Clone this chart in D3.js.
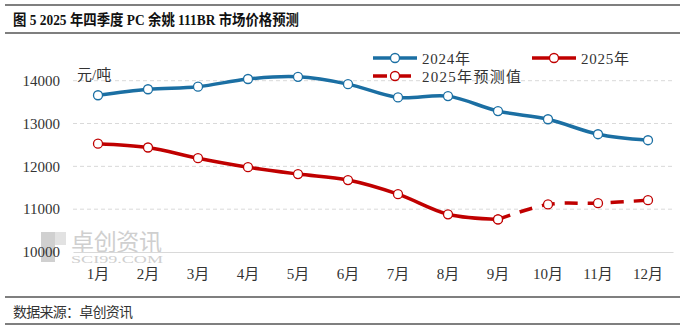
<!DOCTYPE html>
<html>
<head>
<meta charset="utf-8">
<script src="https://cdn.jsdelivr.net/npm/d3@7"></script>
<style>
  body { margin: 0; background: #fff; }
  svg { display: block; }
</style>
</head>
<body>
<script>
// data
const months = ["1月","2月","3月","4月","5月","6月","7月","8月","9月","10月","11月","12月"];
const price2024 = [13660, 13800, 13860, 14040, 14090, 13920, 13610, 13640, 13290, 13100, 12750, 12610];
const price2025 = [12530, 12440, 12190, 11980, 11820, 11680, 11350, 10880, 10760];
const forecast2025 = [null, null, null, null, null, null, null, null, 10760, 11110, 11140, 11210];
const yTicks = [10000, 11000, 12000, 13000, 14000];

const W = 680, H = 328;
const blue = "#1b6fa3", red = "#c00000";
const cjk = "'Liberation Serif','Noto Sans CJK SC',serif";

const svg = d3.select("body").append("svg").attr("width", W).attr("height", H);

// frame lines + title + source
[5, 33, 297, 324].forEach(y => {
    svg.append("line").attr("x1", 5).attr("x2", W).attr("y1", y).attr("y2", y)
        .attr("stroke", "#555").attr("stroke-width", 1.5);
});
svg.append("text").text("图 5 2025 年四季度 PC 余姚 111BR 市场价格预测")
    .attr("x", 13).attr("y", 25)
    .attr("font-size", 15).attr("font-weight", "bold")
    .attr("textLength", 286).attr("lengthAdjust", "spacingAndGlyphs")
    .attr("font-family", cjk).attr("fill", "#111");
svg.append("text").text("数据来源：卓创资讯")
    .attr("x", 13).attr("y", 317)
    .attr("font-size", 14).attr("textLength", 120)
    .attr("font-family", cjk).attr("fill", "#333");

// scales
const x = d3.scaleBand().domain(months).range([73, 673]);
const cx = m => x(m) + x.bandwidth() / 2;
const y = d3.scaleLinear().domain([10000, 14000]).range([252, 80.7]);

// grid
const grid = svg.append("g");
grid.selectAll("line").data(yTicks.slice(1)).join("line")
    .attr("x1", 73).attr("x2", 673)
    .attr("y1", d => y(d)).attr("y2", d => y(d))
    .attr("stroke", "#d9d9d9").attr("stroke-dasharray", "4,3");

// watermark
const wm = svg.append("g");
wm.append("rect").attr("x", 41).attr("y", 232).attr("width", 14).attr("height", 30).attr("fill", "#d0d0d0");
wm.append("rect").attr("x", 55).attr("y", 232).attr("width", 11).attr("height", 13).attr("fill", "#e2e2e2");
wm.append("text").text("卓创资讯").attr("x", 71).attr("y", 250)
    .attr("font-size", 23).attr("textLength", 91)
    .attr("font-family", cjk).attr("fill", "#cfcfcf");
wm.append("text").text("SCI99.COM").attr("x", 71).attr("y", 263)
    .attr("font-size", 11).attr("textLength", 92).attr("lengthAdjust", "spacingAndGlyphs")
    .attr("font-family", "'Liberation Serif',serif").attr("fill", "#cfcfcf");

// y axis
const yAxis = svg.append("g").attr("transform", "translate(60,0)")
    .call(d3.axisLeft(y).tickValues(yTicks).tickSize(0).tickPadding(0).tickFormat(d3.format("d")));
yAxis.select(".domain").remove();
yAxis.selectAll("text").attr("font-size", 15).attr("font-family", "'Liberation Serif',serif").attr("fill", "#333");

// x axis
const xAxis = svg.append("g").attr("transform", "translate(0,252)")
    .call(d3.axisBottom(x).tickSize(0).tickPadding(16));
xAxis.select(".domain").attr("stroke", "#d9d9d9");
xAxis.selectAll("text").attr("font-size", 15).attr("font-family", cjk).attr("fill", "#333");

svg.append("text").text("元/吨").attr("x", 77).attr("y", 80)
    .attr("font-size", 15).attr("font-family", cjk).attr("fill", "#333");

// lines
const curve = d3.curveCatmullRom.alpha(0.5);
function drawSeries(vals, color, dash) {
    const pts = vals.map((v, i) => [months[i], v]).filter(d => d[1] != null);
    const line = d3.line().x(d => cx(d[0])).y(d => y(d[1])).curve(curve);
    svg.append("path").datum(pts).attr("d", line)
        .attr("fill", "none").attr("stroke", color).attr("stroke-width", 3.5)
        .attr("stroke-dasharray", dash || null);
    svg.append("g").selectAll("circle").data(pts).join("circle")
        .attr("cx", d => cx(d[0])).attr("cy", d => y(d[1])).attr("r", 4.5)
        .attr("fill", "#fff").attr("stroke", color).attr("stroke-width", 1.3);
}
drawSeries(price2024, blue);
drawSeries(forecast2025, red, "13,10");
drawSeries(price2025, red);

// legend
const legend = [
    { name: "2024年", color: blue, dash: null, x: 373, y: 58, w: 48 },
    { name: "2025年", color: red, dash: null, x: 532, y: 58, w: 48 },
    { name: "2025年预测值", color: red, dash: "14,10", x: 373, y: 76, w: 99 }
];
const lg = svg.append("g");
legend.forEach(d => {
    lg.append("line").attr("x1", d.x).attr("x2", d.x + 44).attr("y1", d.y).attr("y2", d.y)
        .attr("stroke", d.color).attr("stroke-width", 3.5).attr("stroke-dasharray", d.dash);
    lg.append("circle").attr("cx", d.x + 22).attr("cy", d.y).attr("r", 4.5)
        .attr("fill", "#fff").attr("stroke", d.color).attr("stroke-width", 1.3);
    lg.append("text").text(d.name).attr("x", d.x + 49).attr("y", d.y + 5.5)
        .attr("font-size", 15).attr("textLength", d.w)
        .attr("font-family", cjk).attr("fill", "#333");
});
</script>
</body>
</html>
